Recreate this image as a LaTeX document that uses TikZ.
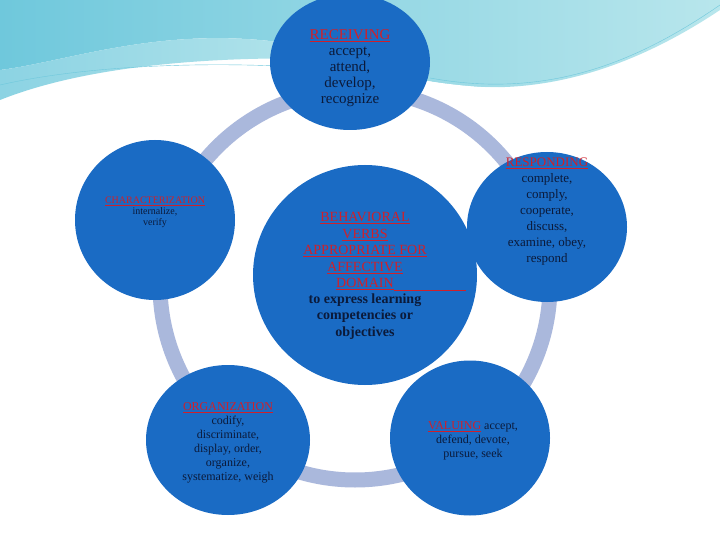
\documentclass[tikz,border=0pt]{standalone}
\usepackage{fontspec}
\setmainfont{Liberation Serif}
\definecolor{cblue}{HTML}{1A6BC4}
\definecolor{ring}{HTML}{AAB8DC}
\definecolor{tnavy}{HTML}{0B1A3A}
\definecolor{tred}{HTML}{D0202A}
\definecolor{wave1}{HTML}{6FC8DC}
\definecolor{wave2}{HTML}{B8E6EC}
\tikzset{bub/.style={ellipse,fill=cblue,draw=none,text=tnavy,align=center,inner sep=0pt},
 ttl/.style={text=tred}}
\newcommand{\ul}[1]{\underline{#1}}
\usetikzlibrary{shapes.geometric}
\begin{document}
\begin{tikzpicture}[x=1pt,y=-1pt]
\useasboundingbox (0,0) rectangle (720,540);
\fill[white] (0,0) rectangle (720,540);
% waves
\shade[left color=wave1,right color=wave2] (0,0) -- (720,0) -- (720,10) .. controls (600,90) and (480,110) .. (360,60) .. controls (200,10) and (80,60) .. (0,70) -- cycle;
\fill[white] (0,90) .. controls (100,60) and (250,60) .. (360,70) .. controls (480,90) and (560,110) .. (720,30) -- (720,40) .. controls (560,120) and (460,110) .. (360,80) .. controls (250,70) and (100,70) .. (0,100) -- cycle;
\shade[left color=wave1!80,right color=wave2] (0,70) .. controls (80,60) and (200,10) .. (360,60) .. controls (250,55) and (100,60) .. (0,100) -- cycle;
\draw[wave1,thin] (0,85) .. controls (100,62) and (250,60) .. (360,72);
\draw[wave1,thin] (430,78) .. controls (550,100) and (640,60) .. (720,5);
% ring
\draw[ring,line width=15pt] (355,285) circle (195);
% bubbles
\node[bub,minimum width=160pt,minimum height=136pt] (rec) at (350,62) {};
\node[text=tnavy,align=center,font=\fontsize{15}{16}\selectfont] at (350,68)
 {{\color{tred}\ul{RECEIVING}}\\accept,\\attend,\\develop,\\recognize};
\node[bub,minimum width=160pt,minimum height=160pt] (cha) at (155,220) {};
\node[text=tnavy,align=center,font=\fontsize{10}{11}\selectfont] at (155,212)
 {{\color{tred}\ul{CHARACTERIZATION}}\\internalize,\\verify};
\node[bub,minimum width=224pt,minimum height=220pt] (beh) at (365,275) {};
\node[text=tnavy,align=center,font=\fontsize{14}{16.5}\selectfont] at (365,276)
 {{\color{tred}\ul{BEHAVIORAL}}\\{\color{tred}\ul{VERBS}}\\{\color{tred}\ul{APPROPRIATE FOR}}\\{\color{tred}\ul{AFFECTIVE}}\\{\color{tred}\ul{DOMAIN}\rlap{\rule[-2.6pt]{72pt}{0.5pt}}}\\[-1pt]\bfseries to express learning\\\bfseries competencies or\\\bfseries objectives};
\node[bub,minimum width=160pt,minimum height=150pt] (res) at (547,227) {};
\node[text=tnavy,align=center,font=\fontsize{13}{16}\selectfont] at (547,212)
 {{\color{tred}\ul{RESPONDING}}\\complete,\\comply,\\cooperate,\\discuss,\\examine, obey,\\respond};
\node[bub,minimum width=164pt,minimum height=150pt] (org) at (228,440) {};
\node[text=tnavy,align=center,font=\fontsize{12}{14}\selectfont] at (228,443)
 {{\color{tred}\ul{ORGANIZATION}}\\codify,\\discriminate,\\display, order,\\organize,\\systematize, weigh};
\node[bub,minimum width=160pt,minimum height=155pt] (val) at (470,438) {};
\node[text=tnavy,align=center,font=\fontsize{12}{14}\selectfont] at (473,441)
 {{\color{tred}\ul{VALUING}} accept,\\defend, devote,\\pursue, seek};
\end{tikzpicture}
\end{document}
